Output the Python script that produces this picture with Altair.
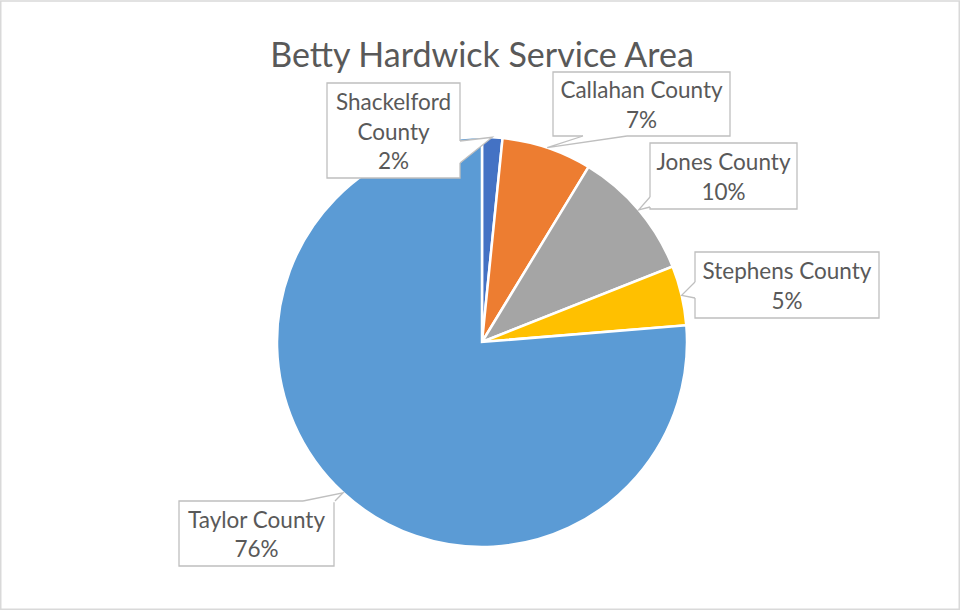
import math
import altair as alt
import pandas as pd

# ---------------- data ----------------
COUNTIES = ["Shackelford County", "Callahan County", "Jones County", "Stephens County", "Taylor County"]
SHARES = [1.6, 7.1, 10.3, 4.7, 76.3]
COLORS = ["#4472C4", "#ED7D31", "#A5A5A5", "#FFC000", "#5B9BD5"]
TITLE = "Betty Hardwick Service Area"

# ---------------- layout ----------------
W, H = 961, 611
CX, CY, R = 482, 342, 205
FONT = "Lato"
TEXT_COLOR = "#595959"
LINE_COLOR = "#BFBFBF"
LINE_H = 29.5
TEXT_DY = 2
# callout boxes (x0, y0, x1, y1)
BOXES = {
    "Shackelford County": (327, 83, 460, 178),
    "Callahan County": (553, 72, 730, 136),
    "Jones County": (650, 143, 797, 209),
    "Stephens County": (695, 252, 879, 318),
    "Taylor County": (179, 501, 334, 566),
}
# base of each callout wedge on its box edge
WEDGE_BASE = {
    "Shackelford County": ((460, 141), (460, 163)),
    "Callahan County": ((583, 136), (627, 136)),
    "Jones County": ((650, 197), (650, 207)),
    "Stephens County": ((695, 282), (695, 298)),
    "Taylor County": ((303, 501), (335, 501)),
}
WRAP = {"Shackelford County": "Shackelford\nCounty"}

# ---------------- tables ----------------
total = sum(SHARES)
df = pd.DataFrame({"county": COUNTIES, "share": SHARES, "order": range(len(COUNTIES))})

labels, boxes, erase, wedge = [], [], [], []
cum = 0.0
for name, v in zip(COUNTIES, SHARES):
    mid = (cum + v / 2) / total * 2 * math.pi
    cum += v
    tx, ty = CX + R * math.sin(mid), CY - R * math.cos(mid)
    x0, y0, x1, y1 = BOXES[name]
    (b1x, b1y), (b2x, b2y) = WEDGE_BASE[name]
    pct = f"{round(v / total * 100)}%"
    text = WRAP.get(name, name) + "\n" + pct
    n = text.count("\n") + 1
    labels.append({"county": name, "text": text,
                   "cx": (x0 + x1) / 2,
                   "cy": (y0 + y1) / 2 - (n - 1) * LINE_H / 2 + TEXT_DY})
    boxes.append({"county": name, "x0": x0, "y0": y0, "x1": x1, "y1": y1})
    erase.append({"county": name, "x0": b1x, "y0": b1y, "x1": b2x, "y1": b2y})
    for i, (px, py) in enumerate([(b1x, b1y), (tx, ty), (b2x, b2y)]):
        wedge.append({"county": name, "seq": i, "px": px, "py": py})

labels, boxes, erase, wedge = map(pd.DataFrame, (labels, boxes, erase, wedge))

PX = lambda f: alt.X(f, scale=None, axis=None)
PY = lambda f: alt.Y(f, scale=None, axis=None)

pie = alt.Chart(df).mark_arc(radius=R, stroke="white", strokeWidth=2.5).encode(
    theta=alt.Theta("share:Q", stack=True),
    color=alt.Color("county:N", scale=alt.Scale(domain=COUNTIES, range=COLORS), legend=None),
    order=alt.Order("order:Q"),
    x=alt.value(CX),
    y=alt.value(CY),
)

box_layer = alt.Chart(boxes).mark_rect(fill="white", stroke=LINE_COLOR, strokeWidth=1.3).encode(
    x=PX("x0:Q"), x2="x1:Q", y=PY("y0:Q"), y2="y1:Q"
)

erase_layer = alt.Chart(erase).mark_rule(stroke="white", strokeWidth=2.5).encode(
    x=PX("x0:Q"), x2="x1:Q", y=PY("y0:Q"), y2="y1:Q"
)

wedge_layer = alt.Chart(wedge).mark_line(fill="white", stroke=LINE_COLOR, strokeWidth=1.3).encode(
    x=PX("px:Q"), y=PY("py:Q"), detail="county:N", order="seq:Q"
)

text_layer = alt.Chart(labels).mark_text(
    font=FONT, fontSize=22.5, color=TEXT_COLOR, lineBreak="\n", lineHeight=LINE_H,
    align="center", baseline="middle",
).encode(x=PX("cx:Q"), y=PY("cy:Q"), text="text:N")

title_layer = alt.Chart(pd.DataFrame({"t": [TITLE]})).mark_text(
    font=FONT, fontSize=34, color=TEXT_COLOR, align="center", baseline="alphabetic"
).encode(x=alt.value(482), y=alt.value(67), text="t:N")

border = alt.Chart(pd.DataFrame({"a": [0]})).mark_rect(
    fill=None, stroke="#D9D9D9", strokeWidth=1.5
).encode(x=alt.value(0.75), x2=alt.value(959.25), y=alt.value(1), y2=alt.value(609.25))

chart = alt.layer(pie, box_layer, erase_layer, wedge_layer, text_layer, title_layer, border).properties(
    width=W, height=H, autosize="none", padding=0, background="white"
).configure_view(stroke=None)

chart.save("out.html", embed_options={"renderer": "svg", "actions": False})
